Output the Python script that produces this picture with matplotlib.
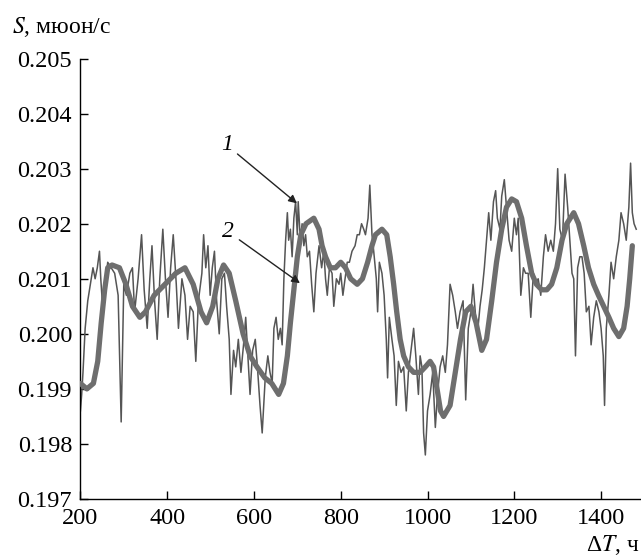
import matplotlib
matplotlib.use("Agg")
import matplotlib.pyplot as plt

# fonts
plt.rcParams['font.family'] = ['Liberation Serif', 'DejaVu Serif']
plt.rcParams['mathtext.fontset'] = 'stix'

# curve 1 - raw count rate (thin line)
x_raw = [200, 203, 206, 211, 217, 223, 229, 234, 239, 244, 247, 252, 257, 263, 271, 279, 287, 294,
         300, 306, 314, 320, 325, 333, 341, 347, 354, 360, 365, 371, 377, 383, 390, 396, 402, 408,
         414, 421, 426, 434, 441, 447, 453, 460, 466, 472, 480, 484, 489, 494, 499, 504, 509, 514,
         520, 526, 532, 537, 543, 547, 553, 558, 564, 570, 576, 581, 586, 591, 597, 603, 608, 614,
         619, 626, 632, 637, 642, 646, 651, 656, 661, 665, 669, 673, 677, 680, 684, 688, 692, 696,
         700, 702, 707, 711, 715, 719, 723, 728, 733, 738, 743, 750, 756, 761, 765, 769, 774, 780,
         784, 790, 796, 800, 805, 810, 815, 820, 826, 833, 838, 843, 848, 853, 857, 863, 867, 872,
         876, 882, 885, 889, 895, 900, 905, 908, 912, 918, 923, 928, 933, 939, 945, 951, 956, 962,
         968, 973, 979, 983, 987, 991, 995, 1000, 1006, 1012, 1018, 1023, 1029, 1035, 1041, 1046,
         1052, 1058, 1064, 1069, 1075, 1082, 1088, 1094, 1100, 1105, 1110, 1115, 1121, 1126, 1131,
         1136, 1141, 1146, 1152, 1157, 1161, 1167, 1171, 1177, 1182, 1188, 1194, 1200, 1205, 1209,
         1215, 1221, 1226, 1232, 1238, 1244, 1249, 1255, 1261, 1267, 1272, 1278, 1284, 1290, 1295,
         1300, 1305, 1311, 1317, 1323, 1328, 1333, 1337, 1341, 1346, 1351, 1356, 1361, 1366, 1372,
         1377, 1383, 1389, 1395, 1400, 1405, 1408, 1412, 1418, 1423, 1429, 1435, 1441, 1446, 1452,
         1458, 1464, 1468, 1472, 1476, 1481]
s_raw = [0.1986, 0.1989, 0.1993, 0.2001, 0.2006, 0.2009, 0.2012, 0.2010, 0.2012, 0.2015, 0.2010,
         0.2004, 0.2009, 0.2013, 0.2012, 0.2011, 0.2007, 0.1984, 0.2009, 0.2007, 0.2011, 0.2012,
         0.2004, 0.2010, 0.2018, 0.2008, 0.2001, 0.2010, 0.2016, 0.2006, 0.1999, 0.2010, 0.2019,
         0.2010, 0.2003, 0.2012, 0.2018, 0.2009, 0.2001, 0.2010, 0.2007, 0.1999, 0.2005, 0.2004,
         0.1995, 0.2006, 0.2011, 0.2018, 0.2012, 0.2016, 0.2007, 0.2012, 0.2015, 0.2006, 0.2000,
         0.2010, 0.2011, 0.2005, 0.1999, 0.1989, 0.1997, 0.1994, 0.1999, 0.1993, 0.1998, 0.2003,
         0.1996, 0.1989, 0.1997, 0.1999, 0.1994, 0.1987, 0.1982, 0.1992, 0.1996, 0.1993, 0.1991,
         0.2001, 0.2003, 0.1999, 0.2001, 0.1998, 0.2010, 0.2017, 0.2022, 0.2017, 0.2019, 0.2014,
         0.2021, 0.2024, 0.2018, 0.2024, 0.2017, 0.2020, 0.2016, 0.2018, 0.2014, 0.2015, 0.2009,
         0.2004, 0.2011, 0.2016, 0.2012, 0.2015, 0.2010, 0.2007, 0.2012, 0.2011, 0.2005, 0.2010,
         0.2009, 0.2011, 0.2007, 0.2010, 0.2013, 0.2013, 0.2015, 0.2016, 0.2018, 0.2018, 0.2020,
         0.2019, 0.2018, 0.2021, 0.2027, 0.2018, 0.2015, 0.2010, 0.2004, 0.2013, 0.2011, 0.2007,
         0.1999, 0.1992, 0.2003, 0.1999, 0.1996, 0.1987, 0.1995, 0.1993, 0.1994, 0.1986, 0.1993,
         0.1997, 0.2001, 0.1996, 0.1989, 0.1996, 0.1994, 0.1982, 0.1978, 0.1986, 0.1989, 0.1993,
         0.1983, 0.1989, 0.1994, 0.1996, 0.1993, 0.1998, 0.2009, 0.2007, 0.2004, 0.2001, 0.2004,
         0.2006, 0.1988, 0.2001, 0.2004, 0.2009, 0.2004, 0.2000, 0.2005, 0.2008, 0.2012, 0.2017,
         0.2022, 0.2017, 0.2024, 0.2026, 0.2021, 0.2019, 0.2025, 0.2028, 0.2023, 0.2017, 0.2015,
         0.2021, 0.2018, 0.2021, 0.2007, 0.2012, 0.2011, 0.2011, 0.2003, 0.2011, 0.2009, 0.2010,
         0.2007, 0.2014, 0.2018, 0.2015, 0.2017, 0.2015, 0.2020, 0.2030, 0.2019, 0.2017, 0.2029,
         0.2023, 0.2017, 0.2011, 0.2010, 0.1996, 0.2012, 0.2014, 0.2014, 0.2011, 0.2004, 0.2005,
         0.1998, 0.2003, 0.2006, 0.2004, 0.2001, 0.1996, 0.1987, 0.2001, 0.2007, 0.2013, 0.2010,
         0.2014, 0.2017, 0.2022, 0.2020, 0.2017, 0.2023, 0.2031, 0.2022, 0.2020, 0.2019]

# curve 2 - smoothed (thick line)
x_smooth = [200, 215, 230, 240, 248, 256, 263, 273, 290, 305, 320, 337, 350, 370, 395, 420, 441,
            460, 478, 491, 505, 517, 530, 543, 558, 575, 591, 607, 625, 641, 657, 668, 677, 684,
            692, 700, 708, 720, 738, 750, 757, 765, 776, 788, 800, 811, 823, 838, 850, 862, 872,
            880, 895, 906, 914, 922, 929, 937, 945, 956, 968, 983, 995, 1006, 1014, 1022, 1030,
            1037, 1052, 1064, 1076, 1088, 1100, 1112, 1125, 1136, 1148, 1159, 1171, 1182, 1194,
            1205, 1217, 1228, 1240, 1251, 1263, 1275, 1286, 1298, 1310, 1321, 1337, 1348, 1360,
            1371, 1383, 1394, 1406, 1418, 1429, 1441, 1452, 1460, 1466, 1472]
s_smooth = [0.1991, 0.1990, 0.1991, 0.1995, 0.2002, 0.2008, 0.2012, 0.20125, 0.2012, 0.2009,
            0.2005, 0.2003, 0.2004, 0.2007, 0.2009, 0.2011, 0.2012, 0.2009, 0.2004, 0.2002,
            0.2005, 0.2010, 0.20125, 0.2011, 0.2006, 0.2000, 0.1996, 0.1994, 0.1992, 0.1991,
            0.1989, 0.1991, 0.1996, 0.2002, 0.2008, 0.2014, 0.2018, 0.2020, 0.2021, 0.2019,
            0.2016, 0.2014, 0.2012, 0.2012, 0.2013, 0.2012, 0.2010, 0.2009, 0.2010, 0.2013,
            0.2016, 0.2018, 0.2019, 0.2018, 0.2014, 0.2009, 0.2004, 0.1999, 0.1996, 0.1994,
            0.1993, 0.1993, 0.1994, 0.1995, 0.1994, 0.1990, 0.1986, 0.1985, 0.1987, 0.1993,
            0.1999, 0.2004, 0.2005, 0.2002, 0.1997, 0.1999, 0.2006, 0.2013, 0.2019, 0.2023,
            0.20245, 0.2024, 0.2021, 0.2016, 0.2011, 0.2009, 0.2008, 0.2008, 0.2009, 0.2012,
            0.2017, 0.2020, 0.2022, 0.2020, 0.2016, 0.2012, 0.2009, 0.2007, 0.2005, 0.2003,
            0.2001, 0.19995, 0.2001, 0.2005, 0.2010, 0.2016]

x_ticks = [200, 400, 600, 800, 1000, 1200, 1400]
y_ticks = [0.197, 0.198, 0.199, 0.200, 0.201, 0.202, 0.203, 0.204, 0.205]

fig = plt.figure(figsize=(6.41, 5.59), dpi=100)
ax = fig.add_axes([0.1254, 0.1073, 0.8746, 0.788])

ax.plot(x_raw, s_raw, color='#555555', lw=1.1, zorder=2)
ax.plot(x_smooth, s_smooth, color='#6e6e6e', lw=3.8, solid_capstyle='round', zorder=3)

ax.set_xlim(200, 1492)
ax.set_ylim(0.197, 0.205)
ax.set_xticks(x_ticks)
ax.set_xticklabels([str(t) for t in x_ticks])
ax.set_yticks(y_ticks)
ax.set_yticklabels(['%.3f' % t for t in y_ticks])

for side in ['top', 'right']:
    ax.spines[side].set_visible(False)
for side in ['left', 'bottom']:
    ax.spines[side].set_linewidth(1.0)
ax.tick_params(direction='in', length=6, width=1.0, labelsize=17.5)
ax.tick_params(axis='y', pad=6)
ax.tick_params(axis='x', pad=6.5)

# curve labels with arrows
arrow = dict(arrowstyle='-|>', color='#222222', lw=1.0, mutation_scale=12, shrinkA=2, shrinkB=0)
ax.annotate('1', xy=(699, 0.20237), xytext=(537, 0.20343), fontsize=17, style='italic',
            ha='center', va='center', arrowprops=arrow)
ax.annotate('2', xy=(706, 0.20092), xytext=(541, 0.20185), fontsize=17, style='italic',
            ha='center', va='center', arrowprops=arrow)

# axis titles
fig.text(0.018, 0.952, '$S$, мюон/с', fontsize=17, ha='left', va='center')
fig.text(0.998, 0.004, 'Δ$T$, ч', fontsize=17, ha='right', va='bottom')

plt.savefig('out.png', dpi=100)
